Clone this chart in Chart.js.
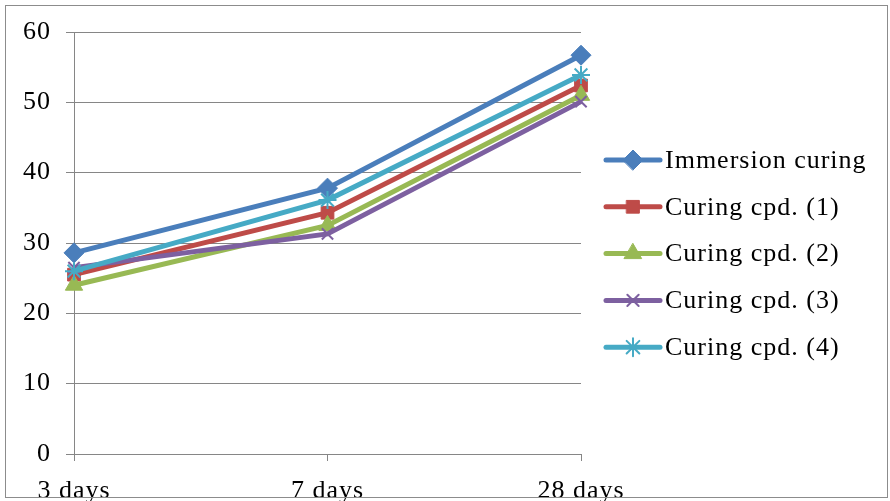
<!DOCTYPE html>
<html>
<head>
<meta charset="utf-8">
<script src="https://cdn.jsdelivr.net/npm/chart.js@4/dist/chart.umd.min.js"></script>
<style>
  html, body { margin: 0; padding: 0; background: #fff; }
  #wrap { position: relative; width: 890px; height: 501px; }
  #frame { position: absolute; left: 5px; top: 5px; width: 883px; height: 493px; border: 1px solid #8c8c8c; box-sizing: border-box; pointer-events: none; }
  canvas { display: block; }
</style>
</head>
<body>
<div id="wrap">
  <canvas id="c" width="890" height="501"></canvas>
  <div id="frame"></div>
</div>
<script>
// Curing ages on the x axis
const ages = ['3 days', '7 days', '28 days'];

// Compressive strength per curing method
const immersion = [28.6, 37.8, 56.7];
const compound1 = [25.5, 34.3, 52.4];
const compound2 = [24.0, 32.5, 51.0];
const compound3 = [26.5, 31.3, 50.1];
const compound4 = [26.0, 36.1, 53.9];

const seriesNames = ['Immersion curing', 'Curing cpd. (1)', 'Curing cpd. (2)', 'Curing cpd. (3)', 'Curing cpd. (4)'];
const yTicks = [0, 10, 20, 30, 40, 50, 60];

const colors = ['#4a7ebb', '#be4b48', '#98b954', '#7d60a0', '#46aac5'];
const markers = ['rectRot', 'rect', 'triangle', 'crossRot', 'star'];
const markerSize = [10, 9, 10, 8, 9];
const seriesValues = [immersion, compound1, compound2, compound3, compound4];

const FONT = '"Liberation Serif", serif';
const SPACING = '1px';

const datasets = seriesValues.map((vals, i) => ({
  label: seriesNames[i],
  data: vals,
  borderColor: colors[i],
  backgroundColor: colors[i],
  borderWidth: 5,
  pointStyle: markers[i],
  pointRadius: markerSize[i],
  pointBorderColor: colors[i],
  pointBackgroundColor: colors[i],
  pointBorderWidth: (markers[i] === 'crossRot' || markers[i] === 'star') ? 2 : 1,
  tension: 0,
  order: seriesValues.length - 1 - i
}));

// Slightly wider text setting for every label on the canvas
const textSpacing = {
  id: 'textSpacing',
  beforeInit(chart) { chart.ctx.letterSpacing = SPACING; },
  beforeDraw(chart) { chart.ctx.letterSpacing = SPACING; }
};

// Legend drawn to the right: a line segment with the series marker in its middle
const sideLegend = {
  id: 'sideLegend',
  afterDraw(chart) {
    const ctx = chart.ctx;
    const x0 = 606, x1 = 660, textX = 665;
    const top = 160, step = 46.8;
    chart.data.datasets.forEach((ds, i) => {
      const y = top + i * step;
      ctx.save();
      ctx.strokeStyle = ds.borderColor;
      ctx.lineWidth = 5;
      ctx.lineCap = 'round';
      ctx.beginPath();
      ctx.moveTo(x0, y);
      ctx.lineTo(x1, y);
      ctx.stroke();
      ctx.fillStyle = ds.pointBackgroundColor;
      ctx.strokeStyle = ds.pointBorderColor;
      ctx.lineWidth = ds.pointBorderWidth;
      Chart.helpers.drawPoint(ctx, { pointStyle: ds.pointStyle, radius: ds.pointRadius, rotation: 0, borderWidth: ds.pointBorderWidth }, (x0 + x1) / 2, y);
      ctx.fillStyle = '#000';
      ctx.font = '26px ' + FONT;
      ctx.letterSpacing = SPACING;
      ctx.textBaseline = 'middle';
      ctx.textAlign = 'left';
      ctx.fillText(ds.label, textX, y + 1);
      ctx.restore();
    });
  }
};

new Chart(document.getElementById('c'), {
  type: 'line',
  data: { labels: ages, datasets },
  options: {
    responsive: false,
    animation: false,
    layout: { padding: { left: 0, right: 309, top: 32, bottom: 0 } },
    plugins: { legend: { display: false }, tooltip: { enabled: false } },
    scales: {
      x: {
        offset: false,
        grid: { display: true, drawOnChartArea: false, drawTicks: true, tickLength: 7, color: '#868686', lineWidth: 1 },
        border: { display: true, color: '#868686', width: 1 },
        ticks: { color: '#000', font: { family: FONT, size: 26 }, padding: 15, maxRotation: 0, autoSkip: false },
        afterFit(scale) { scale.height = 47; }
      },
      y: {
        min: 0, max: 60,
        afterBuildTicks(scale) { scale.ticks = yTicks.map(v => ({ value: v })); },
        grid: { color: '#868686', lineWidth: 1, tickLength: 8, drawTicks: true },
        border: { display: true, color: '#868686', width: 1 },
        ticks: { color: '#000', font: { family: FONT, size: 26 }, padding: 15 },
        afterFit(scale) { scale.width = 74; }
      }
    }
  },
  plugins: [textSpacing, sideLegend]
});
</script>
</body>
</html>
